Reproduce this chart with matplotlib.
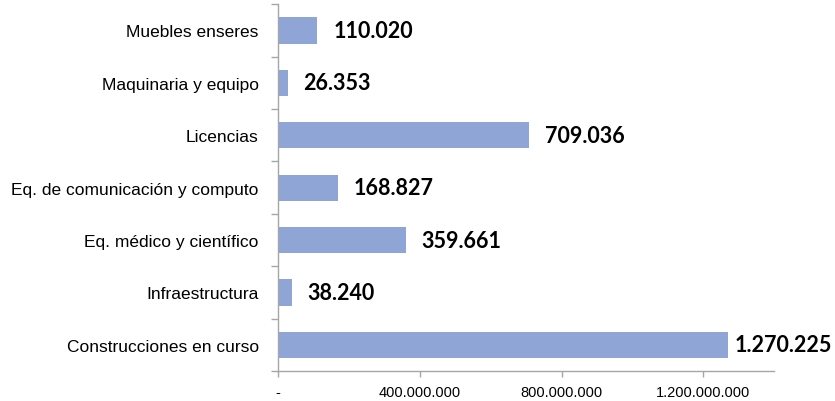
import matplotlib
matplotlib.use("Agg")
import matplotlib.pyplot as plt
import numpy as np
from matplotlib.ticker import FuncFormatter, FixedLocator

# datos (miles de pesos), de arriba hacia abajo
categorias = [
    "Muebles enseres",
    "Maquinaria y equipo",
    "Licencias",
    "Eq. de comunicación y computo",
    "Eq. médico y científico",
    "Infraestructura",
    "Construcciones en curso",
]
valores_miles = [110020, 26353, 709036, 168827, 359661, 38240, 1270225]
ticks_x = [0, 400000000, 800000000, 1200000000]

color_barra = "#8EA5D6"
color_eje = "#A6A6A6"


def formato_puntos(v):
    """Formatea un número con punto como separador de miles."""
    if v == 0:
        return "-"
    return f"{int(round(v)):,}".replace(",", ".")


fig = plt.figure(figsize=(8.35, 4.02), dpi=100)
ax = fig.add_axes([0.3333, 0.0746, 0.5937, 0.9122])

n = len(categorias)
pos = np.arange(n)[::-1]
valores = np.array(valores_miles) * 1000

ax.barh(pos, valores, height=0.5, color=color_barra, zorder=2)

ax.set_xlim(0, 1400000000)
ax.set_ylim(-0.5, n - 0.5)

etiquetas = []
for p, v, vm in zip(pos, valores, valores_miles):
    t = ax.annotate(
        formato_puntos(vm),
        xy=(v, p),
        xytext=(11.5, 0),
        textcoords="offset points",
        ha="left",
        va="center",
        fontsize=15.5,
        fontweight="bold",
        family=["Lato", "DejaVu Sans"],
        color="black",
    )
    etiquetas.append(t)

# si una etiqueta se sale de la figura, se acerca a la barra
fig.canvas.draw()
renderer = fig.canvas.get_renderer()
ancho_fig = fig.bbox.width
for t in etiquetas:
    bb = t.get_window_extent(renderer)
    exceso = bb.x1 - (ancho_fig - 3)
    if exceso > 0:
        dx = t.xyann[0] - exceso * 72.0 / fig.dpi
        t.xyann = (max(dx, 4), 0)

ax.xaxis.set_major_locator(FixedLocator(ticks_x))
ax.xaxis.set_major_formatter(FuncFormatter(lambda v, _: formato_puntos(v)))
ax.set_yticks(pos)
ax.set_yticklabels(categorias)
ax.yaxis.set_minor_locator(FixedLocator(np.arange(-0.5, n, 1.0)))

for lbl in ax.get_yticklabels():
    lbl.set_family(["Liberation Sans", "DejaVu Sans"])
    lbl.set_fontsize(12.5)
for lbl in ax.get_xticklabels():
    lbl.set_family(["Liberation Sans", "DejaVu Sans"])
    lbl.set_fontsize(10.5)

ax.tick_params(axis="y", which="major", length=0, pad=14)
ax.tick_params(axis="y", which="minor", length=5, color=color_eje, width=1)
ax.tick_params(axis="x", which="major", length=4, color=color_eje, width=1, pad=6)

for lado in ["top", "right"]:
    ax.spines[lado].set_visible(False)
for lado in ["left", "bottom"]:
    ax.spines[lado].set_color(color_eje)
    ax.spines[lado].set_linewidth(1)

fig.savefig("out.png", dpi=100)
